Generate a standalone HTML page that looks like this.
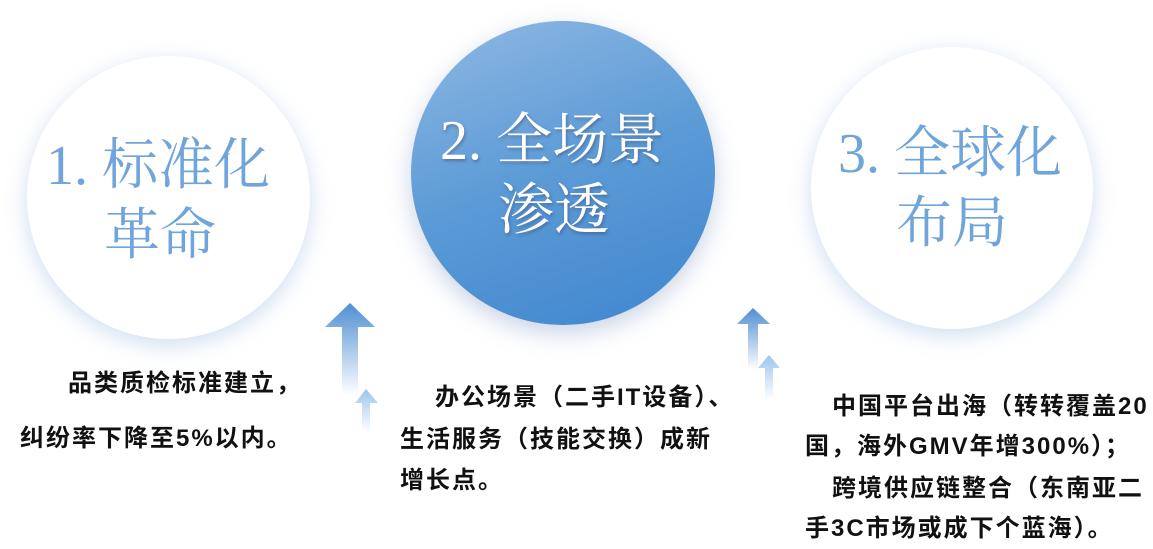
<!DOCTYPE html>
<html><head><meta charset="utf-8"><style>
body{margin:0;width:1153px;height:549px;background:#fff;position:relative;overflow:hidden;font-family:"Liberation Sans","Noto Sans CJK SC",sans-serif}
.c{position:absolute;border-radius:50%;background:#fff;box-shadow:0 6px 22px rgba(120,160,215,.35)}
.t{position:absolute;font-family:"Liberation Serif","Noto Serif CJK SC",serif;font-size:56px;line-height:70px;color:#6fa5da;white-space:nowrap}
.b{position:absolute;font-weight:bold;font-size:24px;letter-spacing:2px;color:#111;white-space:nowrap;line-height:41px}
.ar{position:absolute}
</style></head><body>
<div class="c" style="left:27px;top:56px;width:283px;height:283px"></div>
<div class="c" style="left:411px;top:21px;width:304px;height:304px;background:linear-gradient(160deg,#8fb9e3 0%,#5b9ad6 50%,#3f86cf 100%);box-shadow:0 8px 24px rgba(100,130,180,.35)"></div>
<div class="c" style="left:811px;top:47px;width:282px;height:282px"></div>

<div class="t" style="left:46px;top:131px">1. 标准化</div>
<div class="t" style="left:104px;top:201px">革命</div>
<div class="t" style="left:440px;top:106px;color:#fff;text-shadow:1px 2px 3px rgba(60,60,90,.45)">2. 全场景</div>
<div class="t" style="left:498px;top:176px;color:#fff;text-shadow:1px 2px 3px rgba(60,60,90,.45)">渗透</div>
<div class="t" style="left:838px;top:119px">3. 全球化</div>
<div class="t" style="left:896px;top:189px">布局</div>

<svg class="ar" style="left:0;top:0" width="1153" height="549">
<defs>
<linearGradient id="g" x1="0" y1="0" x2="0" y2="1"><stop offset="0" stop-color="#4f8fd2"/><stop offset="1" stop-color="#4f8fd2" stop-opacity="0"/></linearGradient>
<linearGradient id="g2" x1="0" y1="0" x2="0" y2="1"><stop offset="0" stop-color="#9cc4ec"/><stop offset="1" stop-color="#9cc4ec" stop-opacity="0"/></linearGradient>
</defs>
<path d="M325 327 L350 303 L375 327 L358 327 L358 395 L342 395 L342 327Z" fill="url(#g)"/>
<path d="M355 403 L366 389 L378 403 L370 403 L370 432 L362 432 L362 403Z" fill="url(#g2)"/>
<path d="M737 324 L753 308 L770 324 L758 324 L758 370 L748 370 L748 324Z" fill="url(#g)"/>
<path d="M758 368 L769 355 L780 368 L773 368 L773 400 L765 400 L765 368Z" fill="url(#g2)"/>
</svg>

<div class="b" style="left:68px;top:363px">品类质检标准建立，</div>
<div class="b" style="left:20px;top:418px">纠纷率下降至5%以内。</div>
<div class="b" style="left:435px;top:377px">办公场景（二手IT设备）、</div>
<div class="b" style="left:400px;top:419px">生活服务（技能交换）成新</div>
<div class="b" style="left:400px;top:460px">增长点。</div>
<div class="b" style="left:832px;top:386px">中国平台出海（转转覆盖20</div>
<div class="b" style="left:805px;top:426px">国，海外GMV年增300%）；</div>
<div class="b" style="left:832px;top:468px">跨境供应链整合（东南亚二</div>
<div class="b" style="left:805px;top:508px">手3C市场或成下个蓝海）。</div>
</body></html>
